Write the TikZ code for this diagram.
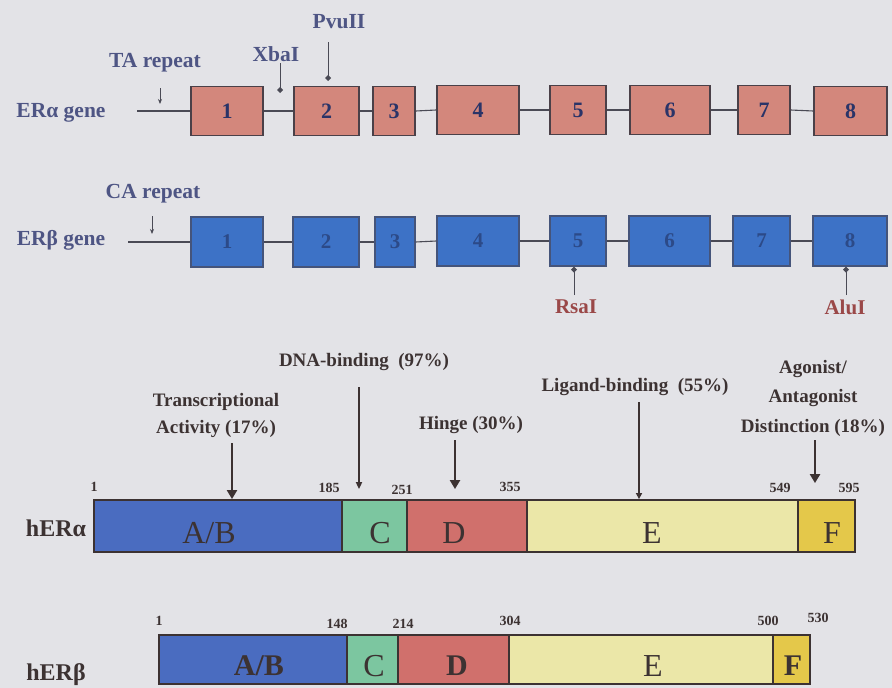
\documentclass[tikz,border=0pt]{standalone}
\usepackage{fontspec}
\setmainfont{Liberation Serif}
\usetikzlibrary{arrows.meta,calc}
\definecolor{bg}{HTML}{E3E3E7}
\definecolor{pinkfill}{HTML}{D3877C}
\definecolor{bluefill}{HTML}{3D72C6}
\definecolor{boxedge}{HTML}{4A4048}
\definecolor{navytext}{HTML}{2A3468}
\definecolor{bluetext}{HTML}{2C4A88}
\definecolor{genelab}{HTML}{4E5584}
\definecolor{enzred}{HTML}{9A4848}
\definecolor{linecol}{HTML}{4A4A55}
\definecolor{ptext}{HTML}{3C3232}
\definecolor{abfill}{HTML}{4A6CC0}
\definecolor{cfill}{HTML}{7CC6A0}
\definecolor{dfill}{HTML}{D0706C}
\definecolor{efill}{HTML}{EBE7A8}
\definecolor{ffill}{HTML}{E4C84A}
\begin{document}
\begin{tikzpicture}[x=1pt,y=-1pt,
  exa/.style={draw=boxedge, line width=1.5pt, fill=pinkfill, minimum height=49pt, inner sep=0pt,
    font=\bfseries\fontsize{22}{22}\selectfont, text=navytext},
  exb/.style={draw=boxedge!60!bluefill, line width=1.2pt, fill=bluefill, minimum height=50pt, inner sep=0pt,
    font=\bfseries\fontsize{21}{21}\selectfont, text=bluetext},
  gline/.style={draw=linecol, line width=1.1pt},
  glab/.style={font=\bfseries\fontsize{21.5}{21.5}\selectfont, text=genelab},
  enz/.style={font=\bfseries\fontsize{21}{21}\selectfont, text=enzred},
  seg/.style={draw=ptext, line width=1.8pt, inner sep=0pt},
  seglab/.style={font=\fontsize{32}{32}\selectfont, text=ptext},
  seglabb/.style={font=\bfseries\fontsize{30}{30}\selectfont, text=ptext},
  anno/.style={font=\bfseries\fontsize{19}{27}\selectfont, text=ptext, align=center},
  num/.style={font=\bfseries\fontsize{14}{14}\selectfont, text=ptext},
  plab/.style={font=\bfseries\fontsize{24}{24}\selectfont, text=ptext},
  parr/.style={draw=ptext, line width=2.2pt, -{Triangle[length=9pt,width=10pt]}},
  tarr/.style={draw=linecol, line width=0.9pt, -{Stealth[length=5pt,width=4pt]}},
  darr/.style={draw=linecol, line width=1pt, -{Diamond[length=6pt,width=6pt]}}
]
\fill[bg] (0,0) rectangle (892,688);
\useasboundingbox (0,0) rectangle (892,688);

% ---------- ER alpha gene ----------
\node[glab] (galab) at (61,113) {ERα gene};
\coordinate (gastart) at (137,111);
\node[exa, minimum width=72pt] (a1) at (227,111) {1};
\node[exa, minimum width=65pt] (a2) at (326.5,111) {2};
\node[exa, minimum width=42pt] (a3) at (394,111) {3};
\node[exa, minimum width=82pt] (a4) at (478,110) {4};
\node[exa, minimum width=56pt] (a5) at (578,110) {5};
\node[exa, minimum width=80pt] (a6) at (670,110) {6};
\node[exa, minimum width=52pt] (a7) at (764,110) {7};
\node[exa, minimum width=73pt] (a8) at (850.5,111) {8};
\draw[gline] (gastart) -- (a1.west);
\draw[gline] (a1.east) -- (a2.west);
\draw[gline] (a2.east) -- (a3.west);
\draw[gline] (a3.east) -- (a4.west);
\draw[gline] (a4.east) -- (a5.west);
\draw[gline] (a5.east) -- (a6.west);
\draw[gline] (a6.east) -- (a7.west);
\draw[gline] (a7.east) -- (a8.west);

\node[glab] (ta) at (155,63) {TA repeat};
\coordinate (tatop) at (160,88);
\coordinate (tabot) at (160,104);
\draw[tarr] (tatop) -- (tabot);
\node[glab] (xba) at (276,54) {XbaI};
\coordinate (xbatop) at (280,63);
\coordinate (xbabot) at (280,93);
\draw[darr] (xbatop) -- (xbabot);
\node[glab] (pvu) at (339,22) {PvuII};
\coordinate (pvutop) at (328,42);
\coordinate (pvubot) at (328,81);
\draw[darr] (pvutop) -- (pvubot);

% ---------- ER beta gene ----------
\node[glab] (gblab) at (61,240) {ERβ gene};
\coordinate (gbstart) at (128,242);
\node[exb, minimum width=72pt] (b1) at (227,242) {1};
\node[exb, minimum width=66pt] (b2) at (326,242) {2};
\node[exb, minimum width=40pt] (b3) at (395,242) {3};
\node[exb, minimum width=82pt] (b4) at (478,241) {4};
\node[exb, minimum width=56pt] (b5) at (578,241) {5};
\node[exb, minimum width=81pt] (b6) at (669.5,241) {6};
\node[exb, minimum width=57pt] (b7) at (761.5,241) {7};
\node[exb, minimum width=74pt] (b8) at (850,241) {8};
\draw[gline] (gbstart) -- (b1.west);
\draw[gline] (b1.east) -- (b2.west);
\draw[gline] (b2.east) -- (b3.west);
\draw[gline] (b3.east) -- (b4.west);
\draw[gline] (b4.east) -- (b5.west);
\draw[gline] (b5.east) -- (b6.west);
\draw[gline] (b6.east) -- (b7.west);
\draw[gline] (b7.east) -- (b8.west);

\node[glab] (ca) at (153,194) {CA repeat};
\coordinate (catop) at (152,216);
\coordinate (cabot) at (152,234);
\draw[tarr] (catop) -- (cabot);

\node[enz] (rsa) at (576,307) {RsaI};
\coordinate (rsatop) at (574,295);
\draw[darr] (rsatop) -- (b5.south -| rsatop);
\node[enz] (alu) at (845,307) {AluI};
\coordinate (alutop) at (846,295);
\draw[darr] (alutop) -- (b8.south -| alutop);

% ---------- protein domains ----------
\node[anno] (tact) at (216,415) {Transcriptional\\Activity (17\%)};
\node[anno] (dna) at (364,362) {DNA-binding\ \ (97\%)};
\node[anno] (hinge) at (471,425) {Hinge (30\%)};
\node[anno] (lig) at (635,387) {Ligand-binding\ \ (55\%)};
\node[anno, font=\bfseries\fontsize{19}{29.5}\selectfont] (ago) at (813,398) {Agonist/\\Antagonist\\Distinction (18\%)};

% hER alpha bar
\node[plab] (pa) at (56,528) {hERα};
\node[seg, fill=abfill, minimum width=248pt, minimum height=52pt] (aab) at (218,526) {};
\node[seg, fill=cfill, minimum width=65pt, minimum height=52pt] (ac) at (374.5,526) {};
\node[seg, fill=dfill, minimum width=120pt, minimum height=52pt] (ad) at (467,526) {};
\node[seg, fill=efill, minimum width=271pt, minimum height=52pt] (ae) at (662.5,526) {};
\node[seg, fill=ffill, minimum width=57pt, minimum height=52pt] (af) at (826.5,526) {};
\node[seglab] at (209,533) {A/B};
\node[seglab] at (380,533) {C};
\node[seglab] at (454,533) {D};
\node[seglab] at (652,533) {E};
\node[seglab] at (832,533) {F};
\node[num] at (94,487) {1};
\node[num] at (329,488) {185};
\node[num] at (402,490) {251};
\node[num] at (510,487) {355};
\node[num] at (780,488) {549};
\node[num] at (849,488) {595};

% hER beta bar
\node[plab] (pb) at (56,675) {hERβ};
\node[seg, fill=abfill, minimum width=188pt, minimum height=49pt] (bab) at (253,659.5) {};
\node[seg, fill=cfill, minimum width=51pt, minimum height=49pt] (bc) at (372.5,659.5) {};
\node[seg, fill=dfill, minimum width=111pt, minimum height=49pt] (bd) at (453.5,659.5) {};
\node[seg, fill=efill, minimum width=264pt, minimum height=49pt] (be) at (641,659.5) {};
\node[seg, fill=ffill, minimum width=37pt, minimum height=49pt] (bf) at (791.5,659.5) {};
\node[seglabb] at (259,666) {A/B};
\node[seglab] at (374,666) {C};
\node[seglabb] at (457,666) {D};
\node[seglab] at (653,666) {E};
\node[seglabb] at (793,666) {F};
\node[num] at (159,621) {1};
\node[num] at (337,624) {148};
\node[num] at (403,624) {214};
\node[num] at (510,621) {304};
\node[num] at (768,621) {500};
\node[num] at (818,618) {530};

% annotation arrows
\coordinate (t1) at (232,443);
\draw[parr] (t1) -- (aab.north -| t1);
\coordinate (t2) at (359,387);
\draw[parr, -{Triangle[length=7pt,width=6pt]}] (t2) -- ($(ac.north -| t2)+(0,-10)$);
\coordinate (t3) at (455,440);
\draw[parr] (t3) -- ($(ad.north -| t3)+(0,-10)$);
\coordinate (t4) at (639,402);
\draw[parr, -{Triangle[length=6pt,width=6pt]}] (t4) -- (ae.north -| t4);
\coordinate (t5) at (815,440);
\draw[parr] (t5) -- ($(af.north -| t5)+(0,-16)$);
\end{tikzpicture}
\end{document}
